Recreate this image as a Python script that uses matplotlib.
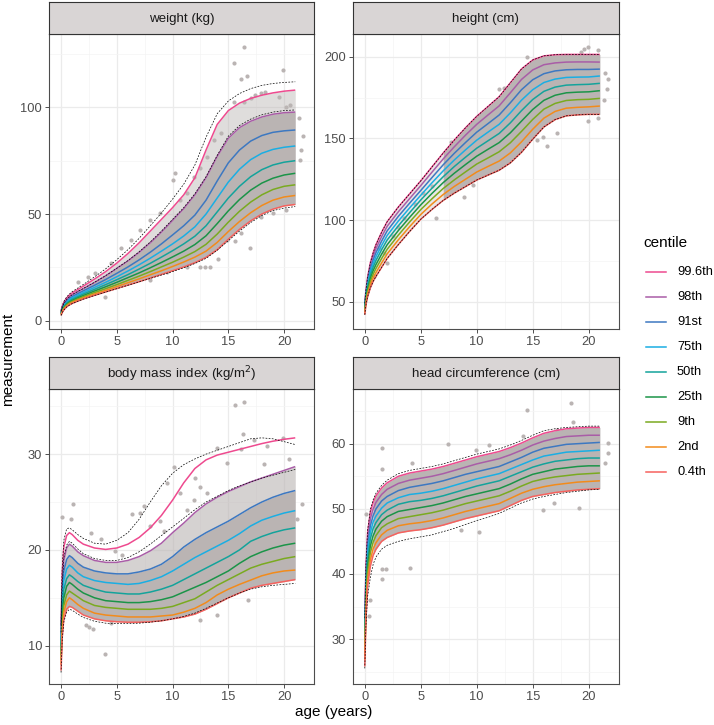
import matplotlib.pyplot as plt
from matplotlib.lines import Line2D

plt.rcParams['font.family'] = ['Liberation Sans', 'DejaVu Sans']

ages = [0, 0.1, 0.25, 0.5, 0.75, 1, 1.5, 2, 3, 4, 5, 6, 7, 8, 9, 10,
        11, 12, 13, 14, 15, 16, 17, 18, 19, 20, 21]

centiles = ['99.6th', '98th', '91st', '75th', '50th', '25th', '9th', '2nd', '0.4th']
colours = ['#EE4A8F', '#A95DA7', '#3D78C1', '#1AAEE3', '#14A39B',
           '#1B9448', '#7AAA20', '#F28B1B', '#F6625E']

# weight (kg)
w996 = [4.6, 6.5, 8.6, 10.6, 12.0, 13.0, 14.6, 16.2, 19.5, 23.0, 27.0, 31.5, 36.5, 42.0, 47.5, 53.0, 59.0, 67.0, 80.0, 92.0, 98.5, 102.0, 104.2, 105.7, 106.8, 107.6, 108.1]
w98 = [4.2, 6.0, 7.9, 9.8, 11.1, 12.1, 13.6, 15.0, 17.9, 21.0, 24.5, 28.0, 32.0, 36.5, 41.5, 47.0, 52.5, 59.0, 67.0, 77.0, 85.5, 90.5, 93.5, 95.5, 96.8, 97.5, 97.8]
w91 = [3.9, 5.6, 7.3, 9.1, 10.3, 11.3, 12.7, 14.0, 16.6, 19.3, 22.2, 25.2, 28.5, 32.1, 36.0, 40.2, 44.5, 49.5, 56.5, 65.5, 74.0, 80.0, 84.2, 86.8, 88.3, 89.0, 89.4]
w75 = [3.6, 5.3, 6.9, 8.6, 9.8, 10.7, 12.0, 13.2, 15.6, 18.0, 20.6, 23.3, 26.2, 29.3, 32.6, 36.0, 39.7, 44.0, 50.0, 57.5, 65.0, 71.0, 75.5, 78.5, 80.3, 81.3, 81.9]
w50 = [3.4, 5.0, 6.5, 8.1, 9.2, 10.1, 11.3, 12.5, 14.7, 16.9, 19.2, 21.6, 24.2, 26.9, 29.8, 32.8, 36.0, 39.6, 44.5, 51.0, 57.5, 63.0, 67.5, 70.8, 73.0, 74.3, 75.0]
w25 = [3.2, 4.7, 6.1, 7.7, 8.7, 9.5, 10.7, 11.8, 13.9, 15.9, 18.0, 20.2, 22.4, 24.8, 27.3, 29.9, 32.6, 35.7, 39.8, 45.5, 51.5, 56.8, 61.2, 64.5, 66.8, 68.3, 69.1]
w9 = [3.0, 4.4, 5.8, 7.3, 8.3, 9.0, 10.2, 11.2, 13.2, 15.0, 16.9, 18.9, 20.9, 23.0, 25.2, 27.4, 29.8, 32.4, 35.8, 40.6, 46.2, 51.3, 55.6, 59.0, 61.5, 63.0, 63.7]
w2 = [2.8, 4.1, 5.5, 6.9, 7.9, 8.6, 9.7, 10.7, 12.5, 14.2, 16.0, 17.8, 19.6, 21.5, 23.4, 25.4, 27.5, 29.8, 32.6, 36.7, 41.8, 46.5, 50.6, 54.0, 56.5, 58.0, 58.7]
w04 = [2.5, 3.8, 5.1, 6.5, 7.4, 8.1, 9.2, 10.2, 11.9, 13.5, 15.1, 16.7, 18.3, 20.0, 21.7, 23.4, 25.2, 27.2, 29.7, 33.3, 38.2, 42.8, 46.8, 50.0, 52.3, 53.8, 54.5]
w_dash_hi = [4.8, 6.8, 9.0, 11.1, 12.5, 13.6, 15.3, 17.0, 20.5, 24.3, 28.6, 33.3, 38.6, 44.5, 50.5, 57.0, 64.0, 73.0, 86.0, 97.0, 103.0, 106.5, 108.8, 110.3, 111.2, 111.7, 112.0]
w_dash_mid = [4.3, 6.1, 8.0, 9.9, 11.2, 12.2, 13.7, 15.1, 18.0, 21.1, 24.6, 28.2, 32.3, 36.9, 42.0, 47.5, 53.0, 59.5, 67.5, 77.5, 86.5, 91.5, 94.5, 96.5, 97.8, 98.5, 98.8]
w_dash_lo = [2.4, 3.7, 5.0, 6.4, 7.3, 8.0, 9.1, 10.1, 11.8, 13.4, 15.0, 16.6, 18.2, 19.8, 21.4, 23.0, 24.8, 26.8, 29.2, 33.0, 37.5, 42.0, 46.0, 49.3, 51.6, 52.8, 53.5]
w_pt_age = [16.4, 15.5, 16.1, 16.7, 19.9, 15.5, 21.7, 10.0, 10.2, 16.9, 15.6, 14.1, 12.5, 12.9, 3.9,
            17.9, 18.3, 20.5, 21.4, 17.0, 17.4, 19.5, 20.2, 16.4, 11.3, 10.7, 11.9, 13.1, 13.7, 14.3,
            12.5, 8.9, 8.0, 7.1, 6.3, 5.4, 4.5, 3.0, 2.4, 1.5, 13.4, 14.9, 16.1, 17.9, 19.0, 20.2,
            11.3, 9.5, 8.0, 21.3, 21.5, 20.8]
w_pt_val = [128.4, 120.6, 113.3, 114.8, 117.5, 102.3, 86.6, 65.9, 69.4, 34.2, 37.3, 28.7, 25.3, 25.3, 11.3,
            106.6, 107.4, 101.1, 75.3, 104.3, 105.8, 105.0, 100.3, 102.7, 59.7, 56.6, 67.5, 76.9, 84.7, 87.8,
            71.4, 50.3, 47.2, 42.5, 37.8, 33.9, 26.9, 22.2, 20.6, 18.3, 25.3, 37.8, 40.9, 48.8, 50.3, 51.9,
            25.3, 23.0, 19.0, 95.0, 80.0, 60.0]

# height (cm)
h996 = [49, 57, 65, 74, 80, 85, 92.5, 99, 108, 116, 124, 132.5, 141, 149, 156.5, 163.5, 169.5, 175.5, 184, 192.5, 198, 200.5, 201.2, 201.4, 201.4, 201.4, 201.4]
h98 = [48.1, 55.9, 63.5, 72.1, 77.8, 82.6, 89.8, 96.2, 105.1, 113.1, 121.1, 129.3, 137.4, 144.9, 152.0, 158.6, 164.3, 169.9, 177.9, 186.1, 191.9, 195.1, 196.2, 196.7, 196.8, 196.8, 196.7]
h91 = [47.3, 54.8, 62.0, 70.1, 75.6, 80.1, 87.1, 93.4, 102.3, 110.3, 118.1, 126.0, 133.8, 140.9, 147.5, 153.8, 159.0, 164.3, 171.8, 179.8, 185.9, 189.6, 191.3, 192.0, 192.2, 192.2, 192.4]
h75 = [46.4, 53.6, 60.5, 68.2, 73.4, 77.7, 84.4, 90.6, 99.4, 107.4, 115.2, 122.8, 130.1, 136.8, 143.0, 148.9, 153.8, 158.6, 165.6, 173.4, 179.8, 184.2, 186.3, 187.3, 187.5, 187.6, 188.2]
h50 = [45.5, 52.5, 59.0, 66.3, 71.3, 75.3, 81.8, 87.8, 96.5, 104.5, 112.3, 119.5, 126.5, 132.8, 138.5, 144.0, 148.5, 153.0, 159.5, 167.0, 173.8, 178.8, 181.4, 182.6, 182.9, 183.1, 183.7]
h25 = [44.6, 51.4, 57.5, 64.3, 69.1, 72.8, 79.1, 84.9, 93.6, 101.6, 109.3, 116.3, 122.9, 128.7, 134.0, 139.1, 143.3, 147.4, 153.4, 160.6, 167.7, 173.3, 176.4, 177.9, 178.3, 178.5, 179.2]
h9 = [43.8, 50.3, 56.0, 62.4, 66.9, 70.4, 76.4, 82.1, 90.8, 98.8, 106.4, 113.0, 119.3, 124.6, 129.5, 134.3, 138.0, 141.8, 147.3, 154.3, 161.6, 167.9, 171.4, 173.2, 173.7, 173.9, 174.5]
h2 = [42.9, 49.1, 54.5, 60.4, 64.7, 67.9, 73.7, 79.3, 87.9, 95.9, 103.4, 109.8, 115.6, 120.6, 125.0, 129.4, 132.8, 136.1, 141.1, 147.9, 155.6, 162.4, 166.5, 168.5, 169.0, 169.3, 169.8]
h04 = [42, 48, 53, 58.5, 62.5, 65.5, 71, 76.5, 85, 93, 100.5, 106.5, 112, 116.5, 120.5, 124.5, 127.5, 130.5, 135, 141.5, 149.5, 157, 161.5, 163.8, 164.4, 164.7, 164.7]
h_pt_age = [19.9, 14.5, 16.3, 19.9, 8.9, 6.4, 9.7, 21.7, 21.4, 19.4, 12.4, 12.0, 10.3, 7.7, 2.0, 1.7,
            1.25, 15.9, 17.2, 20.8, 15.4, 13.0, 13.9, 11.5, 10.6, 19.6, 19.3, 20.8, 21.5, 21.6, 0.5, 0.8,
            3.0, 3.5, 4.5, 5.2, 6.0, 2.5]
h_pt_val = [206.1, 200.0, 145.3, 160.8, 113.9, 101.0, 121.4, 186.3, 173.5, 184.7, 181.0, 180.0, 164.3, 148.0, 73.5, 79.6,
            82.7, 151.0, 153.0, 162.2, 149.0, 140.9, 146.0, 133.8, 130.7, 205.0, 203.0, 204.0, 190.0, 180.0, 62.0, 66.0,
            96.0, 101.0, 110.0, 116.5, 121.0, 90.0]

# body mass index (kg/m2)
b996 = [12.0, 17.5, 20.3, 21.5, 21.8, 21.6, 21.0, 20.6, 20.2, 20.05, 20.2, 20.6, 21.3, 22.3, 23.6, 25.2, 27.0, 28.5, 29.4, 29.9, 30.2, 30.5, 30.8, 31.1, 31.35, 31.55, 31.7]
b98 = [11.2, 16.0, 18.9, 20.2, 20.6, 20.4, 19.8, 19.4, 18.9, 18.7, 18.7, 18.9, 19.3, 19.9, 20.7, 21.8, 22.8, 23.9, 24.8, 25.5, 26.1, 26.6, 27.1, 27.5, 27.9, 28.3, 28.7]
b91 = [10.6, 15.0, 17.8, 19.0, 19.4, 19.2, 18.6, 18.2, 17.8, 17.6, 17.5, 17.5, 17.7, 18.0, 18.5, 19.3, 20.3, 21.1, 21.8, 22.4, 23.0, 23.7, 24.4, 25.0, 25.5, 25.9, 26.2]
b75 = [10.0, 14.2, 16.8, 18.0, 18.4, 18.2, 17.6, 17.2, 16.8, 16.6, 16.5, 16.4, 16.5, 16.8, 17.2, 17.8, 18.5, 19.2, 19.8, 20.4, 21.0, 21.7, 22.5, 23.1, 23.5, 23.85, 24.1]
b50 = [9.5, 13.4, 15.9, 17.0, 17.4, 17.2, 16.7, 16.3, 15.9, 15.6, 15.5, 15.4, 15.4, 15.6, 15.9, 16.3, 16.9, 17.5, 18.1, 18.7, 19.3, 20.0, 20.9, 21.4, 21.8, 22.1, 22.3]
b25 = [9.0, 12.7, 15.0, 16.2, 16.6, 16.4, 15.9, 15.5, 15.0, 14.7, 14.6, 14.5, 14.5, 14.6, 14.8, 15.1, 15.6, 16.1, 16.6, 17.2, 17.8, 18.6, 19.3, 19.8, 20.2, 20.5, 20.7]
b9 = [8.5, 12.0, 14.2, 15.3, 15.7, 15.5, 15.1, 14.7, 14.2, 14.0, 13.9, 13.8, 13.8, 13.8, 13.9, 14.1, 14.5, 14.9, 15.6, 16.3, 16.9, 17.5, 18.1, 18.5, 18.8, 19.1, 19.3]
b2 = [8.0, 11.4, 13.5, 14.6, 15.0, 14.8, 14.3, 13.9, 13.4, 13.2, 13.1, 13.0, 13.0, 13.0, 13.1, 13.2, 13.5, 13.9, 14.5, 15.3, 15.9, 16.4, 16.85, 17.3, 17.6, 17.8, 17.9]
b04 = [7.4, 10.8, 12.8, 13.8, 14.1, 14.0, 13.6, 13.2, 12.8, 12.6, 12.5, 12.45, 12.45, 12.5, 12.6, 12.8, 13.0, 13.3, 13.8, 14.4, 15.0, 15.5, 16.0, 16.3, 16.5, 16.7, 16.9]
b_dash_hi = [12.2, 18.0, 21.0, 22.2, 22.3, 22.1, 21.6, 21.2, 20.7, 20.6, 21.0, 21.8, 23.2, 25.0, 26.7, 28.0, 28.9, 29.5, 30.0, 30.4, 30.8, 31.2, 31.6, 31.7, 31.6, 31.3, 31.0]
b_dash_mid = [11.4, 16.3, 19.2, 20.5, 20.9, 20.7, 20.1, 19.6, 19.1, 18.9, 18.9, 19.2, 19.8, 20.6, 21.5, 22.4, 23.3, 24.2, 25.0, 25.6, 26.2, 26.7, 27.1, 27.5, 27.8, 28.1, 28.4]
b_dash_lo = [7.2, 10.5, 12.5, 13.5, 13.8, 13.7, 13.3, 12.95, 12.55, 12.35, 12.3, 12.3, 12.35, 12.45, 12.6, 12.8, 13.05, 13.4, 13.9, 14.45, 15.0, 15.5, 15.9, 16.15, 16.3, 16.4, 16.5]
b_pt_age = [15.6, 16.4, 16.3, 3.9, 0.1, 1.1, 0.9, 3.6, 2.7, 6.4, 7.4, 10.1, 9.5, 12.5, 14.0, 14.9, 16.1,
            17.3, 18.5, 19.9, 21.6, 21.2, 13.1, 11.9, 11.3, 10.7, 2.5, 2.9, 2.2, 4.5, 12.5, 14.0, 16.8,
            19.6, 15.5, 8.0, 8.9, 7.1, 5.5, 4.8, 18.2, 20.4, 12.0, 9.2]
b_pt_val = [35.1, 35.4, 32.1, 9.15, 23.4, 24.8, 23.2, 21.1, 21.8, 23.8, 24.6, 28.7, 27.0, 26.6, 30.6, 29.1, 30.5,
            31.5, 30.8, 31.7, 24.8, 23.2, 25.9, 25.25, 24.2, 25.9, 12.0, 11.7, 12.2, 12.4, 12.7, 13.25, 14.75,
            17.25, 15.5, 22.5, 23.0, 23.9, 19.5, 19.9, 29.0, 29.5, 27.5, 22.0]

# head circumference (cm)
c996 = [33.0, 41.0, 46.3, 49.5, 51.0, 52.0, 53.2, 54.0, 55.0, 55.5, 55.8, 56.1, 56.5, 57.0, 57.5, 58.0, 58.4, 58.8, 59.4, 60.1, 60.9, 61.6, 62.0, 62.3, 62.4, 62.5, 62.5]
c98 = [32.1, 40.0, 45.3, 48.5, 50.0, 51.0, 52.2, 53.0, 53.9, 54.4, 54.7, 55.0, 55.4, 55.9, 56.4, 56.9, 57.3, 57.7, 58.3, 59.0, 59.8, 60.4, 60.8, 61.1, 61.2, 61.3, 61.3]
c91 = [31.2, 39.0, 44.3, 47.4, 49.0, 50.0, 51.2, 51.9, 52.8, 53.3, 53.6, 53.9, 54.3, 54.8, 55.3, 55.7, 56.1, 56.5, 57.2, 57.9, 58.7, 59.3, 59.6, 59.9, 60.0, 60.1, 60.2]
c75 = [30.3, 38.0, 43.2, 46.4, 48.0, 48.9, 50.1, 50.9, 51.7, 52.2, 52.4, 52.7, 53.1, 53.6, 54.1, 54.6, 55.0, 55.4, 56.1, 56.8, 57.5, 58.1, 58.4, 58.7, 58.8, 58.9, 59.0]
c50 = [29.4, 37.0, 42.2, 45.4, 47.0, 47.9, 49.1, 49.8, 50.7, 51.1, 51.3, 51.6, 52.0, 52.5, 53.0, 53.5, 53.9, 54.3, 55.0, 55.7, 56.4, 56.9, 57.3, 57.5, 57.7, 57.8, 57.8]
c25 = [28.5, 36.0, 41.2, 44.3, 45.9, 46.9, 48.1, 48.8, 49.6, 49.9, 50.2, 50.5, 50.9, 51.4, 51.9, 52.3, 52.7, 53.1, 53.8, 54.6, 55.3, 55.7, 56.1, 56.3, 56.5, 56.6, 56.6]
c9 = [27.6, 35.0, 40.2, 43.3, 44.9, 45.9, 47.1, 47.7, 48.5, 48.8, 49.1, 49.4, 49.8, 50.3, 50.8, 51.2, 51.6, 52.0, 52.7, 53.5, 54.2, 54.6, 54.9, 55.1, 55.3, 55.4, 55.5]
c2 = [26.7, 34.0, 39.1, 42.2, 43.9, 44.8, 46.0, 46.7, 47.4, 47.7, 47.9, 48.2, 48.6, 49.1, 49.6, 50.0, 50.4, 50.8, 51.6, 52.4, 53.0, 53.4, 53.7, 53.9, 54.1, 54.2, 54.3]
c04 = [25.8, 33.0, 38.1, 41.2, 42.9, 43.8, 45.0, 45.6, 46.3, 46.6, 46.8, 47.1, 47.5, 48.0, 48.5, 48.9, 49.3, 49.7, 50.5, 51.3, 51.9, 52.2, 52.5, 52.7, 52.9, 53.0, 53.1]
c_dash_hi = [33.2, 41.3, 46.7, 49.9, 51.4, 52.4, 53.6, 54.4, 55.4, 55.9, 56.2, 56.5, 56.9, 57.4, 57.9, 58.4, 58.8, 59.2, 59.8, 60.5, 61.3, 62.0, 62.3, 62.5, 62.6, 62.7, 62.7]
c_dash_lo = [25.5, 32.0, 36.5, 39.5, 41.5, 42.6, 43.8, 44.4, 45.0, 45.4, 45.7, 46.0, 46.5, 47.0, 47.6, 48.2, 48.7, 49.3, 50.1, 50.9, 51.5, 51.9, 52.2, 52.5, 52.7, 52.9, 53.0]
c_pt_age = [18.4, 14.5, 7.4, 9.9, 11.1, 1.5, 1.5, 0.15, 0.36, 1.5, 1.9, 1.5, 4.0, 8.6, 10.2, 19.1, 15.9,
            16.9, 21.7, 21.5, 21.7, 18.6, 14.1, 4.2, 17.2, 2.3, 0.2, 0.5]
c_pt_val = [66.3, 65.1, 60.0, 59.0, 59.8, 59.4, 56.1, 49.2, 33.5, 40.8, 40.8, 39.3, 40.9, 46.7, 46.4, 50.1, 49.8,
            50.9, 58.5, 57.0, 60.1, 63.4, 61.2, 57.1, 62.1, 47.3, 40.0, 36.0]

W, H = 714, 725
fig = plt.figure(figsize=(W / 100, H / 100), dpi=100)


def frac(x0, y0, x1, y1):
    return [x0 / W, 1 - y1 / H, (x1 - x0) / W, (y1 - y0) / H]


panels = [
    dict(title='weight (kg)', box=(49, 34, 314, 329), curves=[w996, w98, w91, w75, w50, w25, w9, w2, w04],
         dashes=[w_dash_hi, w_dash_mid, w_dash_lo], dense=(w04, w98), light=(w98, w996), light_a=0.45,
         dense_from=0, pts=(w_pt_age, w_pt_val), ylim=(-3.9, 134.4), yt=[0, 50, 100], ym=[25, 75, 125]),
    dict(title='height (cm)', box=(352.7, 34, 618.7, 329), curves=[h996, h98, h91, h75, h50, h25, h9, h2, h04],
         dashes=[h996, h04], dense=(h04, h996), light=None, light_a=0,
         dense_from=7, pts=(h_pt_age, h_pt_val), ylim=(33.3, 213.9), yt=[50, 100, 150, 200], ym=[75, 125, 175]),
    dict(title='body mass index (kg/m$^2$)', box=(49, 389, 314, 684), curves=[b996, b98, b91, b75, b50, b25, b9, b2, b04],
         dashes=[b_dash_hi, b_dash_mid, b_dash_lo], dense=(b04, b91), light=(b91, b98), light_a=0.6,
         dense_from=0.25, pts=(b_pt_age, b_pt_val), ylim=(6.0, 36.8), yt=[10, 20, 30], ym=[15, 25, 35]),
    dict(title='head circumference (cm)', box=(352.7, 389, 618.7, 684), curves=[c996, c98, c91, c75, c50, c25, c9, c2, c04],
         dashes=[c_dash_hi, c_dash_lo], dense=(c04, c996), light=None, light_a=0,
         dense_from=0.75, pts=(c_pt_age, c_pt_val), ylim=(23.1, 68.4), yt=[30, 40, 50, 60], ym=[25, 35, 45, 55, 65]),
]

grey = '#BAB4B3'
for p in panels:
    x0, y0, x1, y1 = p['box']
    ax = fig.add_axes(frac(x0, y0, x1, y1))
    ax.set_xlim(-1.08, 22.68)
    ax.set_ylim(*p['ylim'])
    ax.set_xticks([0, 5, 10, 15, 20])
    ax.set_xticks([2.5, 7.5, 12.5, 17.5], minor=True)
    ax.set_yticks(p['yt'])
    ax.set_yticks(p['ym'], minor=True)
    ax.grid(which='major', color='#EBEBEB', lw=0.9, zorder=0)
    ax.grid(which='minor', color='#F4F4F4', lw=0.5, zorder=0)
    ax.set_axisbelow(True)
    ax.tick_params(which='major', length=3, width=0.6, color='#333333',
                   labelsize=9.3, labelcolor='#4D4D4D', pad=2)
    ax.tick_params(which='minor', length=0)
    for s in ax.spines.values():
        s.set_color('#4D4D4D')
        s.set_linewidth(0.8)

    lo, hi = p['dense']
    dense_mask = [a >= p['dense_from'] for a in ages]
    early_mask = [a <= p['dense_from'] for a in ages]
    ax.fill_between(ages, lo, hi, where=dense_mask, color=grey, lw=0, zorder=1)
    if p['dense_from'] > 0:
        ax.fill_between(ages, lo, hi, where=early_mask, color=grey, alpha=0.3, lw=0, zorder=1)
    if p['light'] is not None:
        ax.fill_between(ages, p['light'][0], p['light'][1], color=grey, alpha=p['light_a'], lw=0, zorder=1)
    ax.scatter(p['pts'][0], p['pts'][1], s=9, color=grey, lw=0, zorder=2)

    for vals, col in zip(p['curves'], colours):
        ax.plot(ages, vals, color=col, lw=1.1, zorder=3, solid_capstyle='butt')
    for vals in p['dashes']:
        ax.plot(ages, vals, color='black', lw=0.5, ls=(0, (2.5, 2)), zorder=4)

    sx = fig.add_axes(frac(x0, y0 - 32, x1, y0))
    sx.set_facecolor('#D9D5D5')
    sx.set_xticks([])
    sx.set_yticks([])
    for s in sx.spines.values():
        s.set_color('#333333')
        s.set_linewidth(0.8)
    sx.text(0.5, 0.47, p['title'], ha='center', va='center', fontsize=9.6, color='#1A1A1A',
            transform=sx.transAxes)

fig.text(8 / W, 1 - 359 / H, 'measurement', rotation=90, ha='center', va='center', fontsize=11)
fig.text(334 / W, 1 - 712 / H, 'age (years)', ha='center', va='center', fontsize=11)

# legend
fig.text(643 / W, 1 - 243 / H, 'centile', ha='left', va='center', fontsize=11)
for i, (lab, col) in enumerate(zip(centiles, colours)):
    y = 1 - (271.7 + 25 * i) / H
    fig.add_artist(Line2D([646 / W, 666 / W], [y, y], color=col, lw=1.1))
    fig.text(677 / W, y, lab, ha='left', va='center', fontsize=9.3)

fig.savefig('out.png', dpi=100)
